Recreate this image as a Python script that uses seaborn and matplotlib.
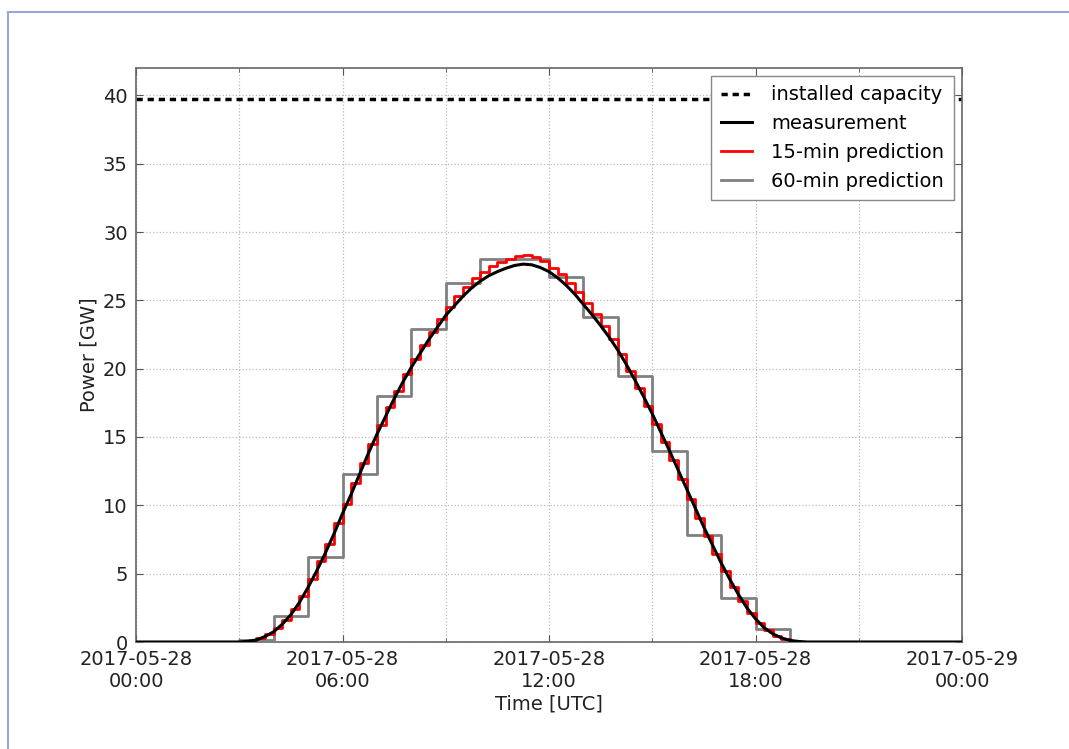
import pandas as pd
import matplotlib
matplotlib.use("Agg")
import matplotlib.pyplot as plt
import matplotlib.dates as mdates
from matplotlib.lines import Line2D
import seaborn as sns

# Datos (GW)
capacidad_instalada = 39.7

# medicion cada 15 min, 03:00 .. 19:30
medicion_dia = [
    0.0, 0.05, 0.15, 0.4,
    0.75, 1.3, 2.0, 2.9,
    4.0, 5.2, 6.5, 7.9,
    9.4, 10.8, 12.3, 13.8,
    15.2, 16.5, 17.8, 19.0,
    20.1, 21.1, 22.1, 23.0,
    23.9, 24.6, 25.3, 25.9,
    26.4, 26.8, 27.1, 27.35,
    27.55, 27.65, 27.6, 27.4,
    27.1, 26.65, 26.1, 25.45,
    24.7, 23.95, 23.15, 22.3,
    21.35, 20.3, 19.15, 17.95,
    16.7, 15.35, 14.0, 12.6,
    11.2, 9.8, 8.4, 7.1,
    5.8, 4.6, 3.5, 2.5,
    1.7, 1.05, 0.6, 0.3,
    0.12, 0.04, 0.0,
]

# prediccion 15 min, 03:00 .. 19:30
pred15_dia = [
    0.0, 0.1, 0.3, 0.6,
    1.0, 1.6, 2.4, 3.4,
    4.6, 5.9, 7.2, 8.7,
    10.1, 11.6, 13.1, 14.5,
    15.9, 17.2, 18.4, 19.6,
    20.7, 21.7, 22.7, 23.6,
    24.5, 25.3, 26.0, 26.6,
    27.1, 27.5, 27.8, 28.05,
    28.25, 28.3, 28.15, 27.85,
    27.4, 26.9, 26.3, 25.6,
    24.8, 24.0, 23.1, 22.2,
    21.1, 19.8, 18.55, 17.3,
    15.95, 14.65, 13.3, 11.9,
    10.5, 9.1, 7.75, 6.45,
    5.2, 4.05, 3.0, 2.1,
    1.4, 0.85, 0.45, 0.2,
    0.08, 0.02, 0.0,
]

# prediccion 60 min, 00:00 .. 24:00
pred60 = [0.0, 0.0, 0.0, 0.15, 1.9, 6.2, 12.3, 18.0, 22.9, 26.3, 28.0, 28.0,
          26.7, 23.8, 19.5, 13.95, 7.85, 3.2, 0.95, 0.0, 0.0, 0.0, 0.0, 0.0, 0.0]

noche_manana = [0.0] * 12   # 00:00 .. 02:45
noche_tarde = [0.0] * 18    # 19:45 .. 24:00
medicion = noche_manana + medicion_dia + noche_tarde
pred15 = noche_manana + pred15_dia + noche_tarde

t15 = pd.date_range("2017-05-28 00:00", "2017-05-29 00:00", freq="15min")
t60 = pd.date_range("2017-05-28 00:00", "2017-05-29 00:00", freq="60min")

df15 = pd.DataFrame({"tiempo": t15, "medicion": medicion, "pred15": pred15})
df60 = pd.DataFrame({"tiempo": t60, "pred60": pred60})

fig = plt.figure(figsize=(10.69, 7.49), dpi=100)
ax = fig.add_axes([136 / 1069, 1 - 642 / 749, (962 - 136) / 1069, (642 - 68) / 749])

ax.axhline(capacidad_instalada, color="black", lw=2.5, linestyle=(0, (1.8, 1.4)),
           label="installed capacity", zorder=2)
sns.lineplot(data=df15, x="tiempo", y="medicion", color="black", lw=2.2,
             label="measurement", ax=ax, zorder=5)
sns.lineplot(data=df15, x="tiempo", y="pred15", color="red", lw=2,
             drawstyle="steps-post", label="15-min prediction", ax=ax, zorder=4)
sns.lineplot(data=df60, x="tiempo", y="pred60", color="gray", lw=2,
             drawstyle="steps-post", label="60-min prediction", ax=ax, zorder=3)

ax.set_xlim(pd.Timestamp("2017-05-28 00:00"), pd.Timestamp("2017-05-29 00:00"))
ax.set_ylim(0, 42)
ax.set_yticks(range(0, 41, 5))
ax.xaxis.set_major_locator(mdates.HourLocator(byhour=range(0, 24, 6)))
ax.xaxis.set_minor_locator(mdates.HourLocator(byhour=range(0, 24, 3)))
ax.xaxis.set_major_formatter(mdates.DateFormatter("%Y-%m-%d\n%H:%M"))

ax.grid(True, which="both", axis="x", color="#bbbbbb", linestyle=":", lw=0.9)
ax.grid(True, which="major", axis="y", color="#bbbbbb", linestyle=":", lw=0.9)
ax.set_axisbelow(True)

ax.tick_params(axis="both", which="both", direction="in", top=True, right=True,
               colors="#555555", labelcolor="#222222", labelsize=14)
ax.tick_params(axis="both", which="major", length=5, pad=6)
ax.tick_params(axis="x", which="minor", length=3)
for s in ax.spines.values():
    s.set_color("#666666")
    s.set_linewidth(1.2)

ax.set_xlabel("Time [UTC]", fontsize=14, color="#222222", labelpad=2)
ax.set_ylabel("Power [GW]", fontsize=14, color="#222222", labelpad=3)

leg = ax.legend(loc="upper right", fontsize=14, handlelength=1.6, handletextpad=1.0,
                labelspacing=0.5, borderpad=0.5, borderaxespad=0.4,
                fancybox=False, framealpha=1, edgecolor="#888888")
leg.get_frame().set_linewidth(1.0)

# marco de la figura
borde = "#9fa3dc"
fig.add_artist(Line2D([8 / 1069, 1], [1 - 12 / 749, 1 - 12 / 749], color=borde, lw=1.5))
fig.add_artist(Line2D([8 / 1069, 8 / 1069], [0, 1 - 12 / 749], color=borde, lw=1.5))

plt.savefig("out.png", dpi=100)
